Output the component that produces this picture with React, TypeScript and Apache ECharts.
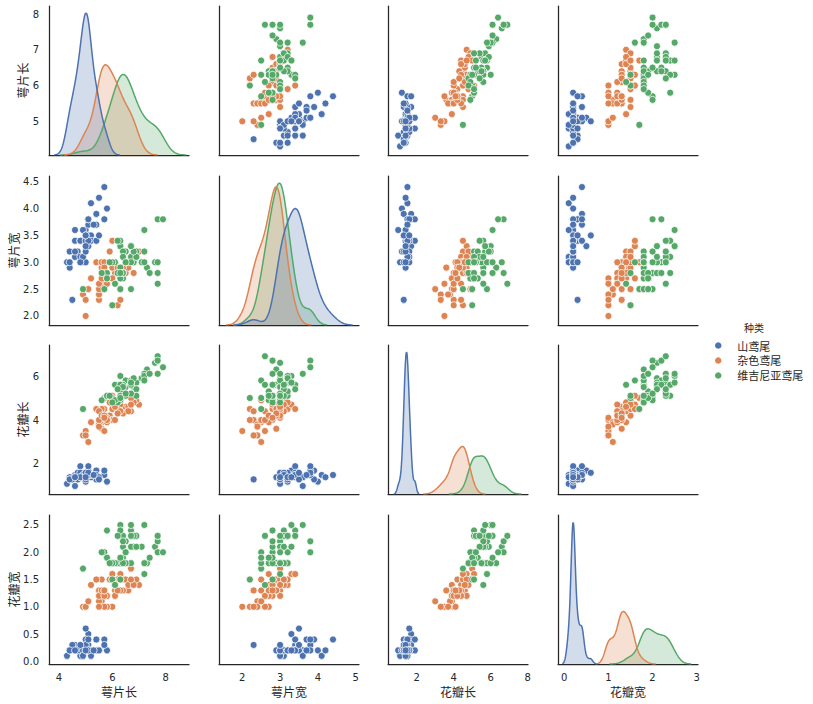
import React, { useEffect, useRef } from "react";
import * as echarts from "echarts";

const speciesNames = ["山鸢尾", "杂色鸢尾", "维吉尼亚鸢尾"];
const featureNames = ["萼片长", "萼片宽", "花瓣长", "花瓣宽"];
const legendTitle = "种类";
const colors = ["#4C72B0", "#DD8452", "#55A868"];

const setosaSepalLength = [5.1,4.9,4.7,4.6,5.0,5.4,4.6,5.0,4.4,4.9,5.4,4.8,4.8,4.3,5.8,5.7,5.4,5.1,5.7,5.1,5.4,5.1,4.6,5.1,4.8,5.0,5.0,5.2,5.2,4.7,4.8,5.4,5.2,5.5,4.9,5.0,5.5,4.9,4.4,5.1,5.0,4.5,4.4,5.0,5.1,4.8,5.1,4.6,5.3,5.0];
const setosaSepalWidth = [3.5,3.0,3.2,3.1,3.6,3.9,3.4,3.4,2.9,3.1,3.7,3.4,3.0,3.0,4.0,4.4,3.9,3.5,3.8,3.8,3.4,3.7,3.6,3.3,3.4,3.0,3.4,3.5,3.4,3.2,3.1,3.4,4.1,4.2,3.1,3.2,3.5,3.6,3.0,3.4,3.5,2.3,3.2,3.5,3.8,3.0,3.8,3.2,3.7,3.3];
const setosaPetalLength = [1.4,1.4,1.3,1.5,1.4,1.7,1.4,1.5,1.4,1.5,1.5,1.6,1.4,1.1,1.2,1.5,1.3,1.4,1.7,1.5,1.7,1.5,1.0,1.7,1.9,1.6,1.6,1.5,1.4,1.6,1.6,1.5,1.5,1.4,1.5,1.2,1.3,1.4,1.3,1.5,1.3,1.3,1.3,1.6,1.9,1.4,1.6,1.4,1.5,1.4];
const setosaPetalWidth = [0.2,0.2,0.2,0.2,0.2,0.4,0.3,0.2,0.2,0.1,0.2,0.2,0.1,0.1,0.2,0.4,0.4,0.3,0.3,0.3,0.2,0.4,0.2,0.5,0.2,0.2,0.4,0.2,0.2,0.2,0.2,0.4,0.1,0.2,0.2,0.2,0.2,0.1,0.2,0.2,0.3,0.3,0.2,0.6,0.4,0.3,0.2,0.2,0.2,0.2];

const versicolorSepalLength = [7.0,6.4,6.9,5.5,6.5,5.7,6.3,4.9,6.6,5.2,5.0,5.9,6.0,6.1,5.6,6.7,5.6,5.8,6.2,5.6,5.9,6.1,6.3,6.1,6.4,6.6,6.8,6.7,6.0,5.7,5.5,5.5,5.8,6.0,5.4,6.0,6.7,6.3,5.6,5.5,5.5,6.1,5.8,5.0,5.6,5.7,5.7,6.2,5.1,5.7];
const versicolorSepalWidth = [3.2,3.2,3.1,2.3,2.8,2.8,3.3,2.4,2.9,2.7,2.0,3.0,2.2,2.9,2.9,3.1,3.0,2.7,2.2,2.5,3.2,2.8,2.5,2.8,2.9,3.0,2.8,3.0,2.9,2.6,2.4,2.4,2.7,2.7,3.0,3.4,3.1,2.3,3.0,2.5,2.6,3.0,2.6,2.3,2.7,3.0,2.9,2.9,2.5,2.8];
const versicolorPetalLength = [4.7,4.5,4.9,4.0,4.6,4.5,4.7,3.3,4.6,3.9,3.5,4.2,4.0,4.7,3.6,4.4,4.5,4.1,4.5,3.9,4.8,4.0,4.9,4.7,4.3,4.4,4.8,5.0,4.5,3.5,3.8,3.7,3.9,5.1,4.5,4.5,4.7,4.4,4.1,4.0,4.4,4.6,4.0,3.3,4.2,4.2,4.2,4.3,3.0,4.1];
const versicolorPetalWidth = [1.4,1.5,1.5,1.3,1.5,1.3,1.6,1.0,1.3,1.4,1.0,1.5,1.0,1.4,1.3,1.4,1.5,1.0,1.5,1.1,1.8,1.3,1.5,1.2,1.3,1.4,1.4,1.7,1.5,1.0,1.1,1.0,1.2,1.6,1.5,1.6,1.5,1.3,1.3,1.3,1.2,1.4,1.2,1.0,1.3,1.2,1.3,1.3,1.1,1.3];

const virginicaSepalLength = [6.3,5.8,7.1,6.3,6.5,7.6,4.9,7.3,6.7,7.2,6.5,6.4,6.8,5.7,5.8,6.4,6.5,7.7,7.7,6.0,6.9,5.6,7.7,6.3,6.7,7.2,6.2,6.1,6.4,7.2,7.4,7.9,6.4,6.3,6.1,7.7,6.3,6.4,6.0,6.9,6.7,6.9,5.8,6.8,6.7,6.7,6.3,6.5,6.2,5.9];
const virginicaSepalWidth = [3.3,2.7,3.0,2.9,3.0,3.0,2.5,2.9,2.5,3.6,3.2,2.7,3.0,2.5,2.8,3.2,3.0,3.8,2.6,2.2,3.2,2.8,2.8,2.7,3.3,3.2,2.8,3.0,2.8,3.0,2.8,3.8,2.8,2.8,2.6,3.0,3.4,3.1,3.0,3.1,3.1,3.1,2.7,3.2,3.3,3.0,2.5,3.0,3.4,3.0];
const virginicaPetalLength = [6.0,5.1,5.9,5.6,5.8,6.6,4.5,6.3,5.8,6.1,5.1,5.3,5.5,5.0,5.1,5.3,5.5,6.7,6.9,5.0,5.7,4.9,6.7,4.9,5.7,6.0,4.8,4.9,5.6,5.8,6.1,6.4,5.6,5.1,5.6,6.1,5.6,5.5,4.8,5.4,5.6,5.1,5.1,5.9,5.7,5.2,5.0,5.2,5.4,5.1];
const virginicaPetalWidth = [2.5,1.9,2.1,1.8,2.2,2.1,1.7,1.8,1.8,2.5,2.0,1.9,2.1,2.0,2.4,2.3,1.8,2.2,2.3,1.5,2.3,2.0,2.0,1.8,2.1,1.8,1.8,1.8,2.1,1.6,1.9,2.0,2.2,1.5,1.4,2.3,2.4,1.8,1.8,2.1,2.4,2.3,1.9,2.3,2.5,2.3,1.9,2.0,2.3,1.8];

// tick labels per variable
const colTicks = [[4, 6, 8], [2, 3, 4, 5], [2, 4, 6, 8], [0, 1, 2, 3]];
const rowTicks = [[5, 6, 7, 8], [2.0, 2.5, 3.0, 3.5, 4.0, 4.5], [2, 4, 6], [0.0, 0.5, 1.0, 1.5, 2.0, 2.5]];
const rowTickDecimals = [0, 1, 0, 1];

// axis extents (as shown)
const colRanges = [[3.625, 8.875], [1.384, 5.088], [0.449, 8.017], [-0.143, 3.03]];
const rowRanges = [[4.058, 8.224], [1.832, 4.606], [0.636, 7.41], [-0.0495, 2.683]];

const GRID_LEFT = [49, 219, 388, 558];
const GRID_TOP = [6, 176, 345, 515];
const GRID_W = 140;
const GRID_H = 149;
const INK = "#262626";
const NUM_FONT = "DejaVu Sans";
const CJK_FONT = "Noto Sans CJK SC";

const features = [
  [setosaSepalLength, versicolorSepalLength, virginicaSepalLength],
  [setosaSepalWidth, versicolorSepalWidth, virginicaSepalWidth],
  [setosaPetalLength, versicolorPetalLength, virginicaPetalLength],
  [setosaPetalWidth, versicolorPetalWidth, virginicaPetalWidth],
];

// Gaussian KDE, Scott bandwidth, cut = 3, 200 grid points (as seaborn)
function kde(values: number[], weight: number): number[][] {
  const n = values.length;
  const mean = values.reduce((a, b) => a + b, 0) / n;
  const variance = values.reduce((a, b) => a + (b - mean) * (b - mean), 0) / (n - 1);
  const bw = Math.sqrt(variance) * Math.pow(n, -1 / 5);
  const lo = Math.min(...values) - 3 * bw;
  const hi = Math.max(...values) + 3 * bw;
  const out: number[][] = [];
  const norm = n * bw * Math.sqrt(2 * Math.PI);
  for (let i = 0; i < 200; i++) {
    const x = lo + ((hi - lo) * i) / 199;
    let d = 0;
    for (const v of values) {
      const z = (x - v) / bw;
      d += Math.exp(-0.5 * z * z);
    }
    out.push([x, (d / norm) * weight]);
  }
  return out;
}

function buildOption() {
  const grid: any[] = [];
  const xAxis: any[] = [];
  const yAxis: any[] = [];
  const series: any[] = [];
  const total = features[0].reduce((a, arr) => a + arr.length, 0);

  for (let r = 0; r < 4; r++) {
    for (let c = 0; c < 4; c++) {
      const k = r * 4 + c;
      grid.push({ left: GRID_LEFT[c], top: GRID_TOP[r], width: GRID_W, height: GRID_H, containLabel: false });
      xAxis.push({
        type: "value",
        gridIndex: k,
        min: colRanges[c][0],
        max: colRanges[c][1],
        axisLine: { show: true, onZero: false, lineStyle: { color: INK, width: 1.25 } },
        axisTick: { show: false },
        splitLine: { show: false },
        axisLabel:
          r === 3
            ? { show: true, customValues: colTicks[c], formatter: (v: number) => String(v), margin: 8, fontSize: 10, color: INK, fontFamily: NUM_FONT }
            : { show: false },
        name: r === 3 ? featureNames[c] : "",
        nameLocation: "middle",
        nameGap: 21,
        nameTextStyle: { fontSize: 12, color: INK, fontFamily: CJK_FONT },
      });
      yAxis.push({
        type: "value",
        gridIndex: k,
        min: rowRanges[r][0],
        max: rowRanges[r][1],
        axisLine: { show: true, onZero: false, lineStyle: { color: INK, width: 1.25 } },
        axisTick: { show: false },
        splitLine: { show: false },
        axisLabel:
          c === 0
            ? {
                show: true,
                customValues: rowTicks[r],
                formatter: (v: number) => v.toFixed(rowTickDecimals[r]),
                margin: 10,
                fontSize: 10,
                color: INK,
                fontFamily: NUM_FONT,
              }
            : { show: false },
        name: c === 0 ? featureNames[r] : "",
        nameLocation: "middle",
        nameGap: 20,
        nameTextStyle: { fontSize: 12, color: INK, fontFamily: CJK_FONT },
      });
    }
  }

  // hidden density axes for diagonal plots
  for (let d = 0; d < 4; d++) {
    const curves = features[d].map((vals) => kde(vals, vals.length / total));
    let maxD = 0;
    curves.forEach((cv) => cv.forEach((p) => (maxD = Math.max(maxD, p[1]))));
    const axisIdx = yAxis.length;
    yAxis.push({ type: "value", gridIndex: d * 4 + d, min: 0, max: maxD * 1.05, show: false });
    for (let s = 2; s >= 0; s--) {
      series.push({
        type: "line",
        xAxisIndex: d * 4 + d,
        yAxisIndex: axisIdx,
        data: curves[s],
        symbol: "none",
        showSymbol: false,
        smooth: false,
        lineStyle: { color: colors[s], width: 1.5 },
        itemStyle: { color: colors[s] },
        areaStyle: { color: colors[s], opacity: 0.25 },
        emphasis: { disabled: true },
        silent: true,
      });
    }
  }

  for (let r = 0; r < 4; r++) {
    for (let c = 0; c < 4; c++) {
      if (r === c) continue;
      const k = r * 4 + c;
      for (let s = 0; s < 3; s++) {
        const xs = features[c][s];
        const ys = features[r][s];
        series.push({
          type: "scatter",
          name: speciesNames[s],
          xAxisIndex: k,
          yAxisIndex: k,
          data: xs.map((x, i) => [x, ys[i]]),
          symbol: "circle",
          symbolSize: 7,
          itemStyle: { color: colors[s], borderColor: "#ffffff", borderWidth: 0.75, opacity: 1 },
          emphasis: { disabled: true },
          silent: true,
        });
      }
    }
  }

  return {
    animation: false,
    backgroundColor: "#ffffff",
    grid,
    xAxis,
    yAxis,
    series,
    legend: {
      orient: "vertical",
      left: 710,
      top: 335,
      itemWidth: 28,
      itemHeight: 6.5,
      itemGap: 4,
      icon: "circle",
      selectedMode: false,
      data: speciesNames.map((nm, i) => ({ name: nm, itemStyle: { color: colors[i], borderWidth: 0 } })),
      textStyle: { fontSize: 11, color: INK, fontFamily: CJK_FONT },
    },
    graphic: [
      {
        type: "text",
        x: 754,
        y: 327,
        style: {
          text: legendTitle,
          fontSize: 10,
          fill: INK,
          fontFamily: CJK_FONT,
          align: "center",
          verticalAlign: "middle",
          textAlign: "center",
          textVerticalAlign: "middle",
        },
      },
    ],
  };
}

export default function App() {
  const ref = useRef<HTMLDivElement>(null);
  useEffect(() => {
    if (!ref.current) return;
    const chart = echarts.init(ref.current, null, { renderer: "svg" });
    chart.setOption(buildOption() as any);
    return () => chart.dispose();
  }, []);
  return (
    <div
      ref={ref}
      style={{ position: "fixed", left: 0, top: 0, width: 813, height: 704, background: "#ffffff" }}
    />
  );
}
